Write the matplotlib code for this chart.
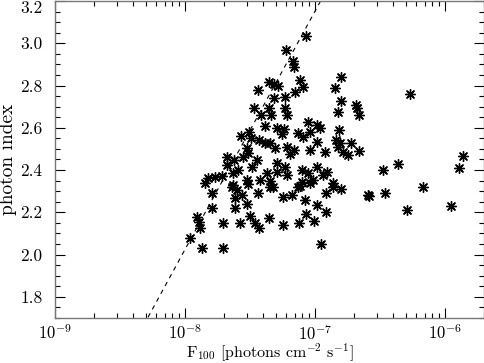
import numpy as np
import matplotlib
matplotlib.use("Agg")
import matplotlib.pyplot as plt
from matplotlib.ticker import FixedLocator, LogLocator, NullFormatter, FuncFormatter

# log10 of F100 [photons cm^-2 s^-1]
log_flux = [
    -7.069, -7.223, -7.169, -7.162, -7.354, -7.315, -7.285, -7.438, -7.115, -7.092,
    -7.154, -7.231, -7.315, -7.469, -7.354, -7.231, -7.415, -7.338, -7.215, -7.385,
    -7.292, -7.238, -7.254, -7.054, -6.985, -7.569, -7.508, -7.492, -7.431, -7.385,
    -7.346, -7.308, -7.215, -7.192, -7.162, -7.131, -7.092, -7.038, -6.985, -7.038,
    -6.923, -7.523, -7.515, -7.554, -7.677, -7.623, -7.446, -7.485, -7.592, -7.677,
    -7.631, -7.769, -7.715, -7.823, -7.846, -7.523, -7.515, -7.423, -7.346, -7.346,
    -7.292, -7.231, -7.292, -7.369, -7.215, -7.100, -7.054, -6.985, -7.100, -7.015,
    -6.938, -7.115, -7.631, -7.792, -7.638, -7.600, -7.562, -7.615, -7.523, -7.438,
    -7.323, -7.246, -7.177, -7.131, -7.038, -7.077, -6.985, -6.915, -6.915, -7.792,
    -7.615, -7.908, -7.892, -7.885, -7.708, -7.577, -7.500, -7.462, -7.431, -7.354,
    -7.246, -7.123, -7.069, -7.008, -7.962, -7.869, -7.708, -6.954, -6.800, -6.846,
    -6.800, -6.685, -6.677, -6.662, -6.823, -6.269, -6.815, -6.838, -6.808, -6.823,
    -6.723, -6.785, -6.746, -6.662, -6.908, -6.862, -6.862, -6.800, -6.592, -6.585,
    -6.462, -6.477, -6.362, -6.169, -6.292, -5.954, -5.892, -5.862, -6.962,
]
photon_index = [
    3.035, 2.968, 2.916, 2.888, 2.817, 2.808, 2.798, 2.779, 2.826, 2.793,
    2.770, 2.746, 2.741, 2.694, 2.694, 2.694, 2.661, 2.661, 2.661, 2.609,
    2.600, 2.595, 2.571, 2.628, 2.614, 2.562, 2.581, 2.552, 2.543, 2.529,
    2.529, 2.505, 2.510, 2.477, 2.496, 2.576, 2.557, 2.581, 2.533, 2.496,
    2.486, 2.505, 2.481, 2.462, 2.462, 2.448, 2.448, 2.415, 2.401, 2.425,
    2.387, 2.368, 2.373, 2.363, 2.339, 2.354, 2.335, 2.354, 2.349, 2.321,
    2.434, 2.415, 2.391, 2.387, 2.377, 2.401, 2.387, 2.415, 2.344, 2.354,
    2.377, 2.325, 2.330, 2.292, 2.321, 2.306, 2.283, 2.269, 2.240, 2.292,
    2.321, 2.273, 2.283, 2.321, 2.339, 2.259, 2.235, 2.292, 2.202, 2.221,
    2.221, 2.179, 2.155, 2.127, 2.150, 2.150, 2.183, 2.150, 2.127, 2.174,
    2.141, 2.150, 2.193, 2.160, 2.079, 2.032, 2.032, 2.051, 2.841, 2.789,
    2.727, 2.708, 2.694, 2.661, 2.675, 2.760, 2.590, 2.543, 2.529, 2.510,
    2.529, 2.486, 2.472, 2.491, 2.391, 2.339, 2.321, 2.311, 2.283, 2.278,
    2.292, 2.401, 2.429, 2.321, 2.212, 2.231, 2.410, 2.467, 2.600,
]

# dashed relation: index = slope * log10(F) + intercept
line_slope = 1.127
line_intercept = 11.04

x_ticks = [1e-9, 1e-8, 1e-7, 1e-6]
x_tick_labels = [r"$10^{-9}$", r"$10^{-8}$", r"$10^{-7}$", r"$10^{-6}$"]
y_ticks = [1.8, 2.0, 2.2, 2.4, 2.6, 2.8, 3.0, 3.2]

plt.rcParams['font.family'] = ['cmr10', 'DejaVu Serif']
plt.rcParams['mathtext.fontset'] = 'cm'
plt.rcParams['axes.unicode_minus'] = False

fig = plt.figure(figsize=(4.85, 3.63), dpi=100)
ax = fig.add_axes([55/485, 45/363, 429/485, 317/363])

flux = 10 ** np.array(log_flux)
ax.scatter(flux, photon_index, marker=(8, 2, 0), s=50, c='black',
           linewidths=1.0, zorder=3)

xl = np.logspace(-9, np.log10(2e-6), 200)
ax.plot(xl, line_slope * np.log10(xl) + line_intercept, color='black',
        lw=0.8, dashes=(4, 4), zorder=2)

ax.set_xscale('log')
ax.set_xlim(1e-9, 2e-6)
ax.set_ylim(1.7, 3.2)

ax.xaxis.set_major_locator(FixedLocator(x_ticks))
ax.set_xticklabels(x_tick_labels)
ax.xaxis.set_minor_locator(LogLocator(base=10, subs=np.arange(2, 10)))
ax.xaxis.set_minor_formatter(NullFormatter())
ax.yaxis.set_major_locator(FixedLocator(y_ticks))
ax.yaxis.set_major_formatter(FuncFormatter(lambda v, p: f"{v:.1f}"))
ax.yaxis.set_minor_locator(FixedLocator(np.arange(1.7, 3.2001, 0.05)))

ax.tick_params(which='both', direction='in', top=True, right=True,
               color='black', labelsize=12.5)
ax.tick_params(axis='x', labelsize=12)
ax.tick_params(which='major', length=7, width=0.8)
ax.tick_params(which='minor', length=3.5, width=0.8)
ax.tick_params(axis='x', pad=4)
ax.tick_params(axis='y', pad=9)
for sp in ax.spines.values():
    sp.set_color('#777777')
    sp.set_linewidth(1.0)

for lab in ax.get_yticklabels():
    if lab.get_text() == '3.2':
        lab.set_va('top')

ax.set_ylabel('photon index', fontsize=14)
ax.yaxis.set_label_coords(-0.088, 0.5)
ax.set_xlabel(r'$\mathrm{F}_{100}$ [photons cm$^{-2}$ s$^{-1}$]', fontsize=11.5)
ax.xaxis.set_label_coords(0.501, -0.077)

fig.savefig('out.png', dpi=100)
